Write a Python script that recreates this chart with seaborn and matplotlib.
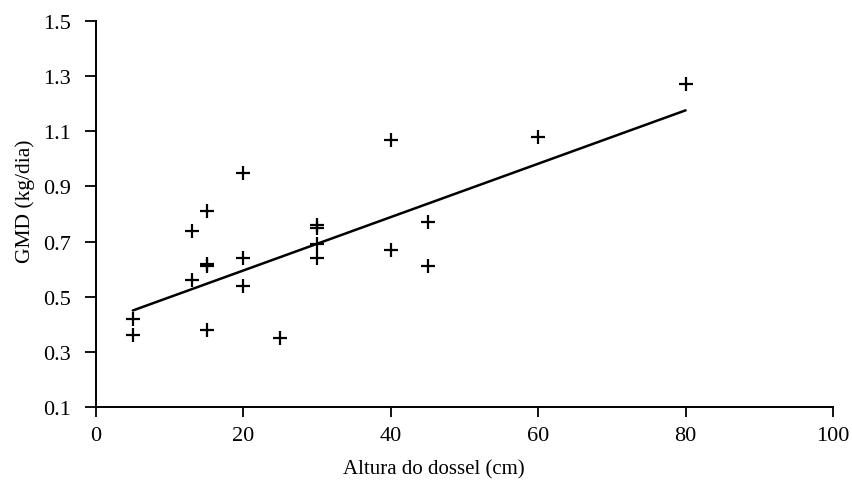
import matplotlib
matplotlib.use('Agg')
import matplotlib.pyplot as plt
import pandas as pd
import seaborn as sns

# values
altura = [5, 5, 13, 13, 15, 15, 15, 15, 20, 20, 20, 25, 30, 30, 30, 30, 40, 40, 45, 45, 60, 80]
gmd = [0.42, 0.36, 0.74, 0.56, 0.81, 0.62, 0.61, 0.38, 0.95, 0.64, 0.54, 0.35,
       0.76, 0.75, 0.69, 0.64, 1.07, 0.67, 0.77, 0.61, 1.08, 1.27]
# linear trend line as drawn in the picture (ends at x=5 and x=80)
trend_x = [5, 80]
trend_y = [0.45, 1.176]
xticks = [0, 20, 40, 60, 80, 100]
yticks = [0.1, 0.3, 0.5, 0.7, 0.9, 1.1, 1.3, 1.5]

data = pd.DataFrame({'altura': altura, 'gmd': gmd})
trend = pd.DataFrame({'altura': trend_x, 'gmd': trend_y})

sns.set_style('ticks')
plt.rcParams['font.family'] = ['Liberation Serif', 'DejaVu Serif']
plt.rcParams['text.color'] = 'black'
plt.rcParams['xtick.color'] = 'black'
plt.rcParams['ytick.color'] = 'black'
plt.rcParams['axes.labelcolor'] = 'black'

fig = plt.figure(figsize=(8.53, 4.85), dpi=100)
ax = fig.add_axes([96 / 853, 1 - 408 / 485, 737 / 853, 386 / 485])

sns.scatterplot(data=data, x='altura', y='gmd', ax=ax, marker='+',
                color='black', s=110, linewidth=1.6, alpha=1)
sns.lineplot(data=trend, x='altura', y='gmd', ax=ax, color='black', linewidth=1.8)

ax.set_xlim(0, 100)
ax.set_ylim(0.1, 1.5)
ax.set_xticks(xticks)
ax.set_yticks(yticks)
ax.set_yticklabels([f'{v:.1f}' for v in yticks])
ax.set_xlabel('Altura do dossel (cm)', fontsize=15)
ax.set_ylabel('GMD (kg/dia)', fontsize=15.5)
ax.xaxis.set_label_coords(0.459, -0.135)
ax.yaxis.set_label_coords(-0.083, 0.535)
ax.tick_params(axis='both', labelsize=16, width=1.3)
ax.tick_params(axis='x', direction='out', length=7, pad=7)
ax.tick_params(axis='y', direction='out', length=8, pad=10)
for side in ['top', 'right']:
    ax.spines[side].set_visible(False)
for side in ['left', 'bottom']:
    ax.spines[side].set_color('black')
    ax.spines[side].set_linewidth(1.4)

fig.savefig('out.png', dpi=100)
